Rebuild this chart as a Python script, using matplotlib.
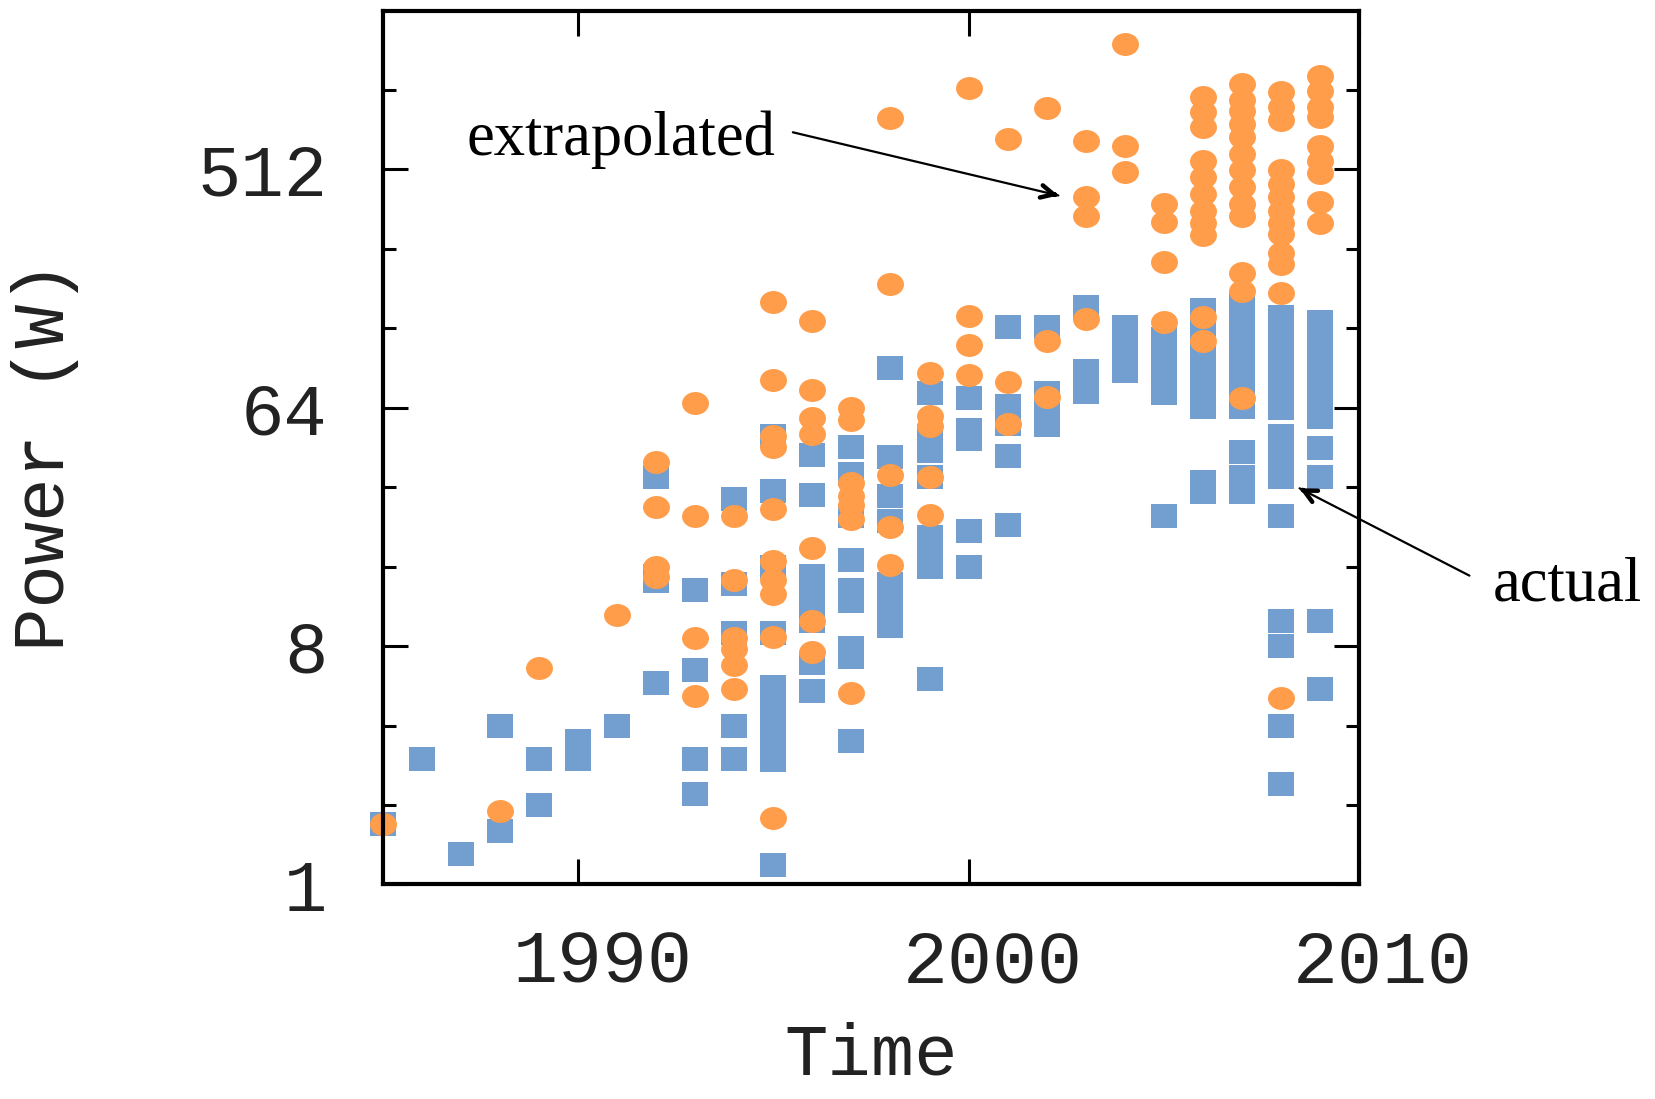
import matplotlib
matplotlib.use("Agg")
import matplotlib.pyplot as plt
from matplotlib.path import Path
from matplotlib.transforms import Affine2D, ScaledTranslation
import numpy as np

# ---------------- data ----------------
actual_year = (
    [1985] + [1986] + [1987] + [1988]*2 + [1989]*2 + [1990]*2 + [1991]
    + [1992]*4 + [1993]*4 + [1994]*5 + [1995]*10 + [1996]*7 + [1997]*9
    + [1998]*7 + [1999]*8 + [2000]*5 + [2001]*5 + [2002]*4 + [2003]*3
    + [2004]*3 + [2005]*5 + [2006]*8 + [2007]*9 + [2008]*14 + [2009]*10
)
actual_power = [
    1.7,
    3.0,
    1.3,
    4.0, 1.6,
    3.0, 2.0,
    3.5, 3.0,
    4.0,
    35, 14.8, 14.1, 5.8,
    13, 6.5, 3.0, 2.2,
    29, 13.8, 9.0, 4.0, 3.0,
    50, 31, 16, 9.0, 5.6, 4.6, 3.86, 3.36, 2.95, 1.19,
    42.5, 30, 14.8, 12.2, 10, 6.9, 5.4,
    45.5, 35.8, 25, 17, 13.1, 11.9, 7.9, 7.3, 3.5,
    90.5, 41.6, 29.6, 23.9, 13.8, 11.4, 9.5,
    72.5, 50, 44, 35, 20.8, 17.8, 15.9, 6.0,
    69.5, 52.7, 48.8, 21.9, 15.9,
    129, 65, 55.7, 42, 23.1,
    129, 72.5, 60, 55,
    154, 88.6, 73.5,
    130, 107, 88.6,
    117, 100, 85, 72.5, 25,
    150, 125, 105, 88.6, 74.5, 64.4, 33.6, 30.7,
    159, 133, 112, 94, 79, 64.4, 43.4, 35, 30.7,
    141, 119, 100, 84, 70.5, 64, 50.2, 42.2, 35, 25, 10, 8, 4, 2.4,
    135, 115, 97, 81.6, 68, 59, 45, 35, 10, 5.5,
]

extra_year = (
    [1985] + [1988] + [1989] + [1991] + [1992]*4 + [1993]*4 + [1994]*6
    + [1995]*10 + [1996]*7 + [1997]*7 + [1998]*5 + [1999]*5 + [2000]*4
    + [2001]*3 + [2002]*3 + [2003]*4 + [2004]*3 + [2005]*4 + [2006]*11
    + [2007]*13 + [2008]*13 + [2009]*9
)
extra_power = [
    1.7,
    1.9,
    6.6,
    10.5,
    40, 27, 16, 14.6,
    67, 25, 8.6, 5.2,
    25, 14.3, 8.6, 7.8, 6.8, 5.5,
    161, 81.6, 50, 45.6, 26.5, 16.8, 14.3, 12.6, 8.7, 1.78,
    137, 74.5, 58.5, 51, 18.9, 10, 7.6,
    64, 57.7, 33.1, 29.6, 27.3, 24.3, 5.3,
    803, 189, 35.5, 22.6, 16.2,
    87, 59.7, 54.6, 35, 25.1,
    1038, 142, 111, 85,
    666, 80, 55.7,
    873, 115, 70.5,
    657, 402, 342, 139,
    1530, 626, 501,
    380, 324, 228, 135,
    962, 843, 739, 553, 478, 413, 357, 320, 288, 141, 115,
    1082, 936, 855, 760, 680, 588, 508, 440, 380, 342, 207, 178, 69.6,
    1003, 879, 787, 508, 452, 402, 357, 320, 292, 246, 224, 174, 5.1,
    1160, 1017, 879, 809, 630, 553, 495, 385, 320,
]

x_ticks = [1990, 2000, 2010]
y_major = [1, 8, 64, 512]
y_minor = [2, 4, 16, 32, 128, 256, 1024]

BLUE = "#739fd0"
ORANGE = "#ff9d4b"
TICK_FONT = "Liberation Mono"
SERIF = "Liberation Serif"

# ---------------- figure ----------------
fig = plt.figure(figsize=(16.55, 10.99), dpi=100)
ax = fig.add_axes([0.2314, 0.1952, 0.5897, 0.7952])

sq_marker = Path.unit_rectangle().transformed(
    Affine2D().translate(-0.5, -0.5).scale(1.0, 25 / 27))
el_marker = Path.unit_circle().transformed(Affine2D().scale(1.0, 23 / 27))

ax.plot(actual_year, actual_power, linestyle="none", marker=sq_marker,
        markersize=19.4, markerfacecolor=BLUE, markeredgewidth=0,
        clip_on=False, zorder=3)
ax.plot(extra_year, extra_power, linestyle="none", marker=el_marker,
        markersize=19.4, markerfacecolor=ORANGE, markeredgewidth=0,
        clip_on=False, zorder=4)

ax.set_yscale("log", base=2)
ax.set_xlim(1985, 2010)
ax.set_ylim(1, 2048)

ax.set_xticks(x_ticks)
ax.set_xticklabels([str(v) for v in x_ticks])
ax.set_yticks(y_major)
ax.set_yticklabels([str(v) for v in y_major])
ax.set_yticks(y_minor, minor=True)
ax.set_yticklabels([], minor=True)
ax.xaxis.set_minor_locator(matplotlib.ticker.NullLocator())

for sp in ax.spines.values():
    sp.set_linewidth(3.0)
    sp.set_zorder(6)

ax.tick_params(which="major", direction="in", length=18, width=2.2,
               top=True, right=True, colors="black",
               labelcolor="#222222")
ax.tick_params(axis="y", which="major", pad=40, labelsize=52)
ax.tick_params(axis="x", which="major", pad=32, labelsize=54)
ax.tick_params(which="minor", direction="in", length=9.5, width=2.2,
               top=True, right=True)
shift = ScaledTranslation(0.24, 0, fig.dpi_scale_trans)
for lbl in ax.get_xticklabels():
    lbl.set_family(TICK_FONT)
    lbl.set_transform(lbl.get_transform() + shift)
for lbl in ax.get_yticklabels():
    lbl.set_family(TICK_FONT)

xl = ax.set_xlabel("Time", family=TICK_FONT, fontsize=52, color="#222222")
xl.set_va("baseline")
ax.set_ylabel("Power (W)", family=TICK_FONT, fontsize=52, color="#222222")
ax.xaxis.set_label_coords(0.5, -0.218)
ax.yaxis.set_label_coords(-0.311, 0.49)

# ---------------- annotations ----------------
def arrow(start, tip, back):
    ax.annotate("", xy=tip, xytext=start, xycoords="data",
                arrowprops=dict(arrowstyle="-", lw=1.6, color="black",
                                shrinkA=0, shrinkB=0),
                annotation_clip=False, zorder=7)
    ax.annotate("", xy=tip, xytext=back, xycoords="data",
                arrowprops=dict(arrowstyle="->,head_length=0.9,head_width=0.45",
                                lw=3.2, color="black", shrinkA=0, shrinkB=0),
                annotation_clip=False, zorder=7)

# extrapolated
tip1 = (2002.3, 408)
start1 = (1995.5, 708)
back1 = (2002.2, 408 * (708 / 408) ** (0.1 / 6.8))
arrow(start1, tip1, back1)
ax.text(1995.06, 662, "extrapolated", family=SERIF, fontsize=45,
        ha="right", va="center", color="black", zorder=7)

# actual
tip2 = (2008.48, 31.7)
start2 = (2012.83, 14.8)
back2 = (2008.58, 31.7 * (14.8 / 31.7) ** (0.1 / 4.35))
arrow(start2, tip2, back2)
ax.text(2013.44, 13.6, "actual", family=SERIF, fontsize=45,
        ha="left", va="center", color="black", zorder=7)

fig.savefig("out.png", dpi=100)
